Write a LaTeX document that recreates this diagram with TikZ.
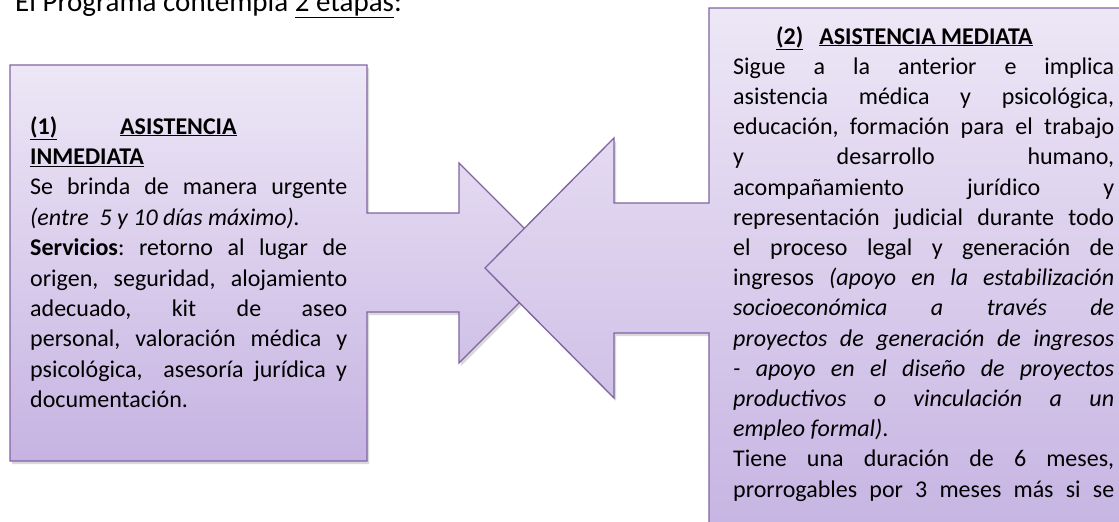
\documentclass[tikz,border=0pt]{standalone}
\usepackage{fontspec}
\setmainfont{Carlito}
\usetikzlibrary{shadows}
\definecolor{bord}{HTML}{8064A2}
\definecolor{ftop}{HTML}{EDE7F6}
\definecolor{fbot}{HTML}{C6B3E2}
\setlength\parindent{0pt}
\hyphenpenalty=10000
\tolerance=10000
\frenchspacing
\tikzset{
  callout/.style={draw=bord, line width=1.3pt, top color=ftop, bottom color=fbot,
    drop shadow={shadow xshift=2pt, shadow yshift=-3pt, opacity=0.15, fill=black}},
  boxtext/.style={anchor=north west, inner sep=0pt, align=justify},
}
\begin{document}
\begin{tikzpicture}[x=1pt,y=-1pt]
\useasboundingbox (0,0) rectangle (1119,522);
\clip (0,0) rectangle (1119,522);
\node[anchor=base west, inner sep=0pt, font=\fontsize{29}{34}\selectfont] (title) at (15,11)
  {El Programa contempla \underline{2 etapas}:};
\path[callout] (10,65) -- (367,65) -- (367,213) -- (459,213) -- (459,163) -- (559,263)
  -- (459,363) -- (459,312) -- (367,312) -- (367,461) -- (10,461) -- cycle;
\path[callout] (709,8) -- (1140,8) -- (1140,540) -- (709,540) -- (709,333) -- (614,333)
  -- (614,398) -- (485,268) -- (614,138) -- (614,203) -- (709,203) -- cycle;
\node[boxtext, text width=317pt, font=\fontsize{24}{30.4}\selectfont] (left) at (30,116)
  {\makebox[90pt][l]{\underline{\textbf{(1)}}}\underline{\textbf{ASISTENCIA}}\\
   \underline{\textbf{INMEDIATA}}\\
   Se brinda de manera urgente\linebreak \textit{(entre\ \ 5 y 10 días máximo).}\par
   \textbf{Servicios}: retorno al lugar de\linebreak origen, seguridad, alojamiento\linebreak
   adecuado, kit de aseo\linebreak personal, valoración médica y\linebreak
   psicológica,\ \ asesoría jurídica y\linebreak documentación.};
\node[boxtext, text width=381pt, font=\fontsize{24}{30.2}\selectfont] (right) at (733,26)
  {\hspace*{43pt}\underline{\textbf{(2)}}\hspace{16pt}\underline{\textbf{ASISTENCIA MEDIATA}}\\
   Sigue a la anterior e implica\linebreak asistencia médica y psicológica,\linebreak
   educación, formación para el trabajo\linebreak y desarrollo humano,\linebreak
   acompañamiento jurídico y\linebreak representación judicial durante todo\linebreak
   el proceso legal y generación de\linebreak ingresos \textit{(apoyo en la estabilización\linebreak
   socioeconómica a través de\linebreak proyectos de generación de ingresos\linebreak
   - apoyo en el diseño de proyectos\linebreak productivos o vinculación a un\linebreak
   empleo formal)}.\par
   Tiene una duración de 6 meses,\linebreak prorrogables por 3 meses más si se\linebreak\mbox{}};
\end{tikzpicture}
\end{document}
